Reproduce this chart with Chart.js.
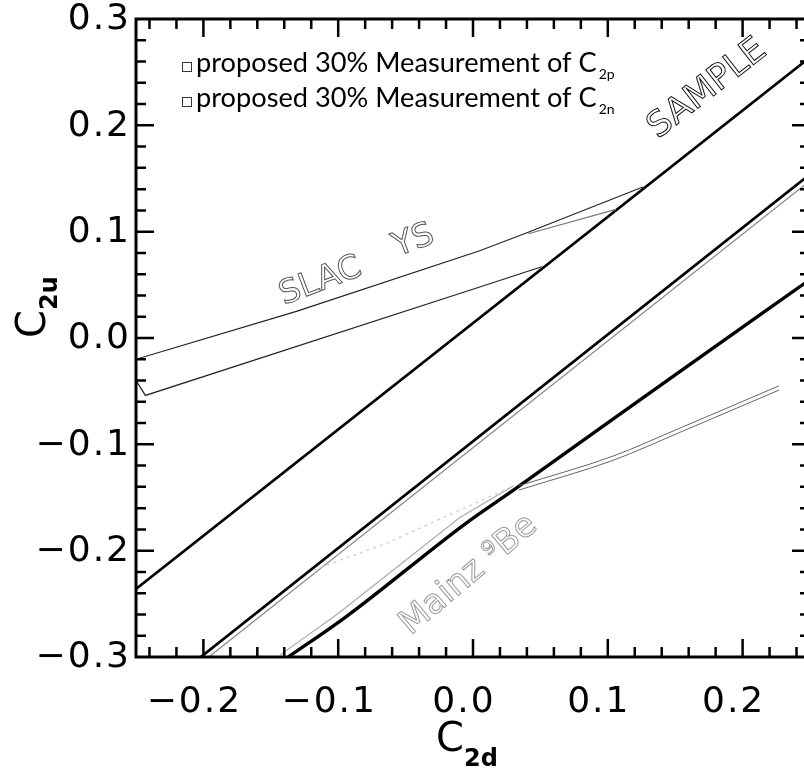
<!DOCTYPE html>
<html>
<head>
<meta charset="utf-8">
<script src="https://cdn.jsdelivr.net/npm/chart.js@4.4.1/dist/chart.umd.min.js"></script>
<style>
    html, body { margin: 0; padding: 0; background: #fff; overflow: hidden; }
    canvas { display: block; }
</style>
</head>
<body>
<canvas id="chart" width="812" height="769"></canvas>
<script>
// tick labels
const xTickVals = [-0.2, -0.1, 0.0, 0.1, 0.2];
const yTickVals = [-0.3, -0.2, -0.1, 0.0, 0.1, 0.2, 0.3];

// SAMPLE band edge (thick)
const sampleX = [-0.25, 0.25];
const sampleY = [-0.236, 0.264];

// middle thick line and its grey partner
const midX = [-0.202, 0.25];
const midY = [-0.300, 0.154];
const midGreyX = [-0.196, 0.25];
const midGreyY = [-0.300, 0.148];

// lower thick line and its grey partner
const lowX = [-0.137, -0.094, -0.005, 0.030, 0.144, 0.25];
const lowY = [-0.300, -0.262, -0.174, -0.143, -0.040, 0.055];
const lowGreyX = [-0.143, -0.100, -0.010, 0.030];
const lowGreyY = [-0.298, -0.259, -0.169, -0.139];

// SLAC DIS band
const slacUpX = [-0.25, -0.131, 0.005, 0.040, 0.126];
const slacUpY = [-0.020, 0.025, 0.082, 0.099, 0.142];
const slacLoX = [-0.25, -0.243, 0.005, 0.051];
const slacLoY = [-0.040, -0.054, 0.048, 0.067];
const slacGreyX = [0.041, 0.106];
const slacGreyY = [0.098, 0.121];

// Mainz 9Be band
const mainzX = [0.034, 0.104, 0.153, 0.227];
const mainzUpY = [-0.139, -0.111, -0.085, -0.045];
const mainzLoY = [-0.143, -0.115, -0.089, -0.049];
const mainzFaintX = [-0.118, -0.064, 0.025];
const mainzFaintY = [-0.218, -0.193, -0.142];

const legendItems = [
    { text: 'proposed 30% Measurement of C', sub: '2p' },
    { text: 'proposed 30% Measurement of C', sub: '2n' }
];

// rotated outline labels, in data coordinates
const notes = [
    { text: 'SAMPLE', x: 0.174, y: 0.234, angle: -38, size: 35, color: '#111' },
    { text: 'SLAC', x: -0.113, y: 0.053, angle: -21, size: 33, color: '#555' },
    { text: 'YS', x: -0.044, y: 0.091, angle: -21, size: 33, color: '#555' },
    { text: 'Mainz \u2079Be', x: -0.003, y: -0.223, angle: -40, size: 34, color: '#999' }
];

const pts = (xs, ys) => xs.map((x, i) => ({ x: x, y: ys[i] }));

function line(data, color, width, dash, smooth) {
    return {
        data: data,
        showLine: true,
        borderColor: color,
        borderWidth: width,
        borderDash: dash || [],
        pointRadius: 0,
        fill: false,
        tension: smooth ? 0.4 : 0,
        cubicInterpolationMode: smooth ? 'monotone' : 'default'
    };
}

const fmt = v => (v < -1e-9 ? '\u2212' : '') + Math.abs(v).toFixed(1);
const AXIS_FONT = '"DejaVu Sans"';

// frame with inward ticks on all four sides, tick labels, titles, legend, notes
const framePlugin = {
    id: 'frame',
    afterDraw(chart) {
        const { ctx, chartArea: a, scales: { x, y } } = chart;
        ctx.save();
        ctx.strokeStyle = '#000';
        ctx.lineCap = 'butt';
        ctx.lineWidth = 2.5;
        for (let i = -24; i <= 24; i += 2) {
            const px = x.getPixelForValue(i / 100);
            const len = i % 10 === 0 ? 18 : 10;
            ctx.beginPath();
            ctx.moveTo(px, a.bottom); ctx.lineTo(px, a.bottom - len);
            ctx.moveTo(px, a.top); ctx.lineTo(px, a.top + len);
            ctx.stroke();
        }
        for (let i = -28; i <= 28; i += 2) {
            const py = y.getPixelForValue(i / 100);
            const len = i % 10 === 0 ? 18 : 10;
            ctx.beginPath();
            ctx.moveTo(a.left, py); ctx.lineTo(a.left + len, py);
            ctx.moveTo(a.right, py); ctx.lineTo(a.right - len, py);
            ctx.stroke();
        }
        ctx.lineWidth = 3;
        ctx.strokeRect(a.left, a.top, a.right - a.left, a.bottom - a.top);

        // tick labels
        ctx.fillStyle = '#000';
        ctx.font = '36px ' + AXIS_FONT;
        ctx.letterSpacing = '2px';
        ctx.textBaseline = 'middle';
        ctx.textAlign = 'center';
        xTickVals.forEach(v => {
            ctx.fillText(fmt(v), x.getPixelForValue(v) - 9, a.bottom + 46);
        });
        ctx.textAlign = 'right';
        yTickVals.forEach(v => {
            ctx.fillText(fmt(v), a.left - 5, y.getPixelForValue(v) + 1);
        });
        ctx.letterSpacing = '0px';

        // axis titles with subscripts
        ctx.textBaseline = 'alphabetic';
        ctx.textAlign = 'left';
        ctx.font = '40px ' + AXIS_FONT;
        const cw = ctx.measureText('C').width;
        const cx = 436;
        ctx.fillText('C', cx, 751);
        ctx.font = 'bold 24px ' + AXIS_FONT;
        ctx.fillText('2d', cx + cw, 766);

        ctx.translate(45, 338);
        ctx.rotate(-Math.PI / 2);
        ctx.font = '40px ' + AXIS_FONT;
        ctx.fillText('C', 0, 0);
        ctx.font = 'bold 24px ' + AXIS_FONT;
        ctx.fillText('2u', cw, 12);
        ctx.restore();

        // legend
        ctx.save();
        ctx.font = '26px Lato';
        const size = 26 * 401 / ctx.measureText(legendItems[0].text).width;
        legendItems.forEach((it, i) => {
            const base = 72 + i * 35;
            ctx.strokeStyle = '#333';
            ctx.lineWidth = 1;
            ctx.strokeRect(182.5, base - 9.5, 9, 9);
            ctx.fillStyle = '#000';
            ctx.font = size + 'px Lato';
            ctx.fillText(it.text, 196, base);
            const w = ctx.measureText(it.text).width;
            ctx.font = Math.round(size * 0.5) + 'px Lato';
            ctx.fillText(it.sub, 196 + w + 2, base + 7);
        });
        ctx.restore();

        // rotated outline labels
        notes.forEach(n => {
            ctx.save();
            ctx.translate(x.getPixelForValue(n.x), y.getPixelForValue(n.y));
            ctx.rotate(n.angle * Math.PI / 180);
            ctx.font = n.size + 'px "DejaVu Sans"';
            ctx.textAlign = 'center';
            ctx.textBaseline = 'middle';
            ctx.strokeStyle = n.color;
            ctx.lineWidth = 1;
            ctx.strokeText(n.text, 0, 0);
            ctx.restore();
        });
    }
};

new Chart(document.getElementById('chart'), {
    type: 'scatter',
    data: {
        datasets: [
            line(pts(slacUpX, slacUpY), '#222', 1.2),
            line(pts(slacLoX, slacLoY), '#222', 1.2),
            line(pts(slacGreyX, slacGreyY), '#777', 1.2),
            line(pts(mainzFaintX, mainzFaintY), '#ccc', 1.2, [3, 4]),
            line(pts(mainzX, mainzUpY), '#666', 1, null, true),
            line(pts(mainzX, mainzLoY), '#666', 1, null, true),
            line(pts(midGreyX, midGreyY), '#888', 1.2),
            line(pts(lowGreyX, lowGreyY), '#aaa', 1.2),
            line(pts(sampleX, sampleY), '#000', 2.6),
            line(pts(midX, midY), '#000', 2.8),
            line(pts(lowX, lowY), '#000', 3.4, null, true)
        ]
    },
    options: {
        responsive: false,
        animation: false,
        layout: { padding: { top: 19, right: 2, left: 0, bottom: 0 } },
        plugins: {
            legend: { display: false },
            tooltip: { enabled: false }
        },
        scales: {
            x: {
                type: 'linear',
                min: -0.25,
                max: 0.25,
                afterBuildTicks: s => { s.ticks = xTickVals.map(v => ({ value: v })); },
                afterFit: s => { s.height = 112; },
                grid: { display: false, drawTicks: false },
                border: { display: false },
                ticks: { display: false }
            },
            y: {
                type: 'linear',
                min: -0.3,
                max: 0.3,
                afterBuildTicks: s => { s.ticks = yTickVals.map(v => ({ value: v })); },
                afterFit: s => { s.width = 136; },
                grid: { display: false, drawTicks: false },
                border: { display: false },
                ticks: { display: false }
            }
        }
    },
    plugins: [framePlugin]
});
</script>
</body>
</html>
